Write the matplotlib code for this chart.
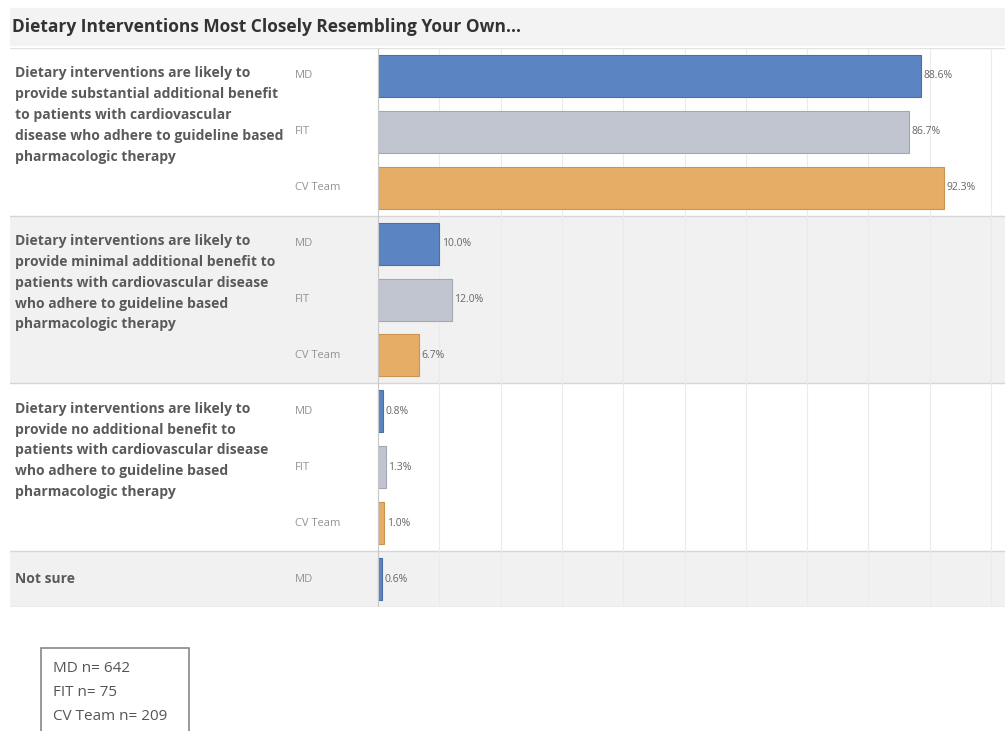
import matplotlib.pyplot as plt
from matplotlib.patches import Rectangle

# survey answers, one block per answer
GROUPS = [
    "Dietary interventions are likely to\nprovide substantial additional benefit\nto patients with cardiovascular\ndisease who adhere to guideline based\npharmacologic therapy",
    "Dietary interventions are likely to\nprovide minimal additional benefit to\npatients with cardiovascular disease\nwho adhere to guideline based\npharmacologic therapy",
    "Dietary interventions are likely to\nprovide no additional benefit to\npatients with cardiovascular disease\nwho adhere to guideline based\npharmacologic therapy",
    "Not sure",
]
RESPONDENTS = ["MD", "FIT", "CV Team"]
MD = [88.6, 10.0, 0.8, 0.6]
FIT = [86.7, 12.0, 1.3, None]
CV_TEAM = [92.3, 6.7, 1.0, None]
SAMPLE_SIZES = ["MD n= 642", "FIT n= 75", "CV Team n= 209"]

COLORS = {"MD": "#5b84c3", "FIT": "#c1c5d0", "CV Team": "#e5ad66"}
EDGES = {"MD": "#4a6fa8", "FIT": "#a3a7b2", "CV Team": "#c9944f"}

W, H = 1005, 731
PX = 6.13  # pixels per percent
X0 = 378   # pixel of the zero line


def build_rows():
    rows = []  # (group index, respondent, value)
    for g in range(len(GROUPS)):
        for name, vals in zip(RESPONDENTS, (MD, FIT, CV_TEAM)):
            if vals[g] is not None:
                rows.append((g, name, vals[g]))
    return rows


def run():
    plt.rcParams["font.family"] = ["Open Sans", "DejaVu Sans"]
    fig = plt.figure(figsize=(W / 100, H / 100), dpi=100)

    rows = build_rows()
    n = len(rows)
    top, bottom = 48, 607
    ax = fig.add_axes([10 / W, 1 - bottom / H, 995 / W, (bottom - top) / H])
    ax.set_xlim(-(X0 - 10) / PX, (W - X0) / PX)
    ax.set_ylim(n, 0)
    ax.axis("off")

    # group shading and separators
    start = 0
    for g in range(len(GROUPS)):
        cnt = sum(1 for r in rows if r[0] == g)
        if g % 2 == 1:
            ax.axhspan(start, start + cnt, color="#f1f1f1", zorder=0, lw=0)
        ax.axhline(start + cnt, color="#d6d6d6", lw=1, zorder=1)
        if cnt == 1:
            ax.text(-(X0 - 15) / PX, start + 0.5, GROUPS[g], ha="left", va="center",
                    fontsize=10, fontweight="bold", color="#5a5a5a", zorder=3)
        else:
            ax.text(-(X0 - 15) / PX, start + 0.33, GROUPS[g], ha="left", va="top",
                    fontsize=10, fontweight="bold", color="#5a5a5a", linespacing=1.62, zorder=3)
        start += cnt
    ax.axhline(0, color="#e2e2e2", lw=1, zorder=1)

    # gridlines and zero line
    ax.vlines(range(10, 101, 10), 0, n, color="#ebebeb", lw=0.8, zorder=1)
    ax.vlines(0, 0, n, color="#c8c8c8", lw=0.8, zorder=4)

    for i, (g, name, val) in enumerate(rows):
        ax.barh(i + 0.5, val, height=0.75, color=COLORS[name], edgecolor=EDGES[name], lw=0.8, zorder=3)
        ax.text(val + 0.4, i + 0.5, f"{val:.1f}%", ha="left", va="center", fontsize=7.5, color="#666666", zorder=3)
        ax.text(-(X0 - 295) / PX, i + 0.5, name, ha="left", va="center", fontsize=8, color="#939393", zorder=3)

    # title band
    fig.patches.append(Rectangle((10 / W, 1 - 45 / H), 995 / W, 37 / H, transform=fig.transFigure,
                                 color="#f3f3f3", zorder=0))
    fig.text(12 / W, 1 - 27 / H, "Dietary Interventions Most Closely Resembling Your Own...",
             ha="left", va="center", fontsize=12.5, fontweight="bold", color="#333333")

    # sample size box
    fig.patches.append(Rectangle((41 / W, 1 - 740 / H), 148 / W, 92 / H, transform=fig.transFigure,
                                 facecolor="white", edgecolor="#888888", lw=1.2))
    for k, s in enumerate(SAMPLE_SIZES):
        fig.text(53 / W, 1 - (668 + 24 * k) / H, s, ha="left", va="center", fontsize=11, color="#555555")

    fig.savefig("out.png", dpi=100)


if __name__ == "__main__":
    run()
